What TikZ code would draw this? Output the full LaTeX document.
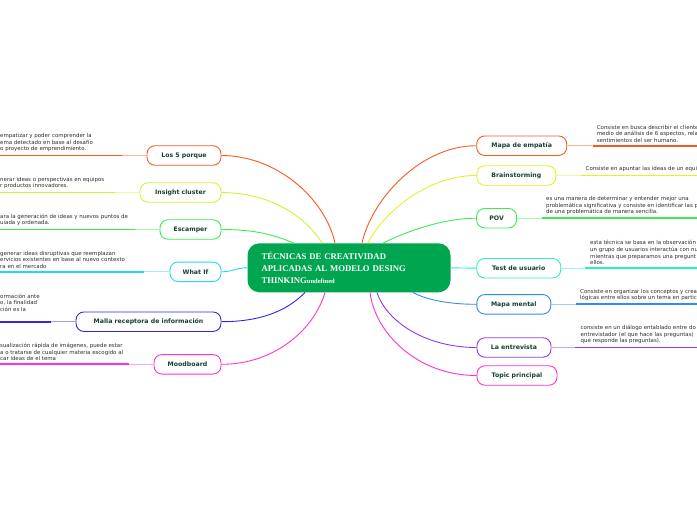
\documentclass[tikz,border=0pt]{standalone}
\usepackage{fontspec}
\setmainfont{DejaVu Sans}
\newfontfamily\titlefont{Liberation Serif}
\definecolor{cOr}{RGB}{250,90,30}
\definecolor{cYl}{RGB}{205,245,45}
\definecolor{cYlb}{RGB}{228,242,40}
\definecolor{cGr}{RGB}{60,235,80}
\definecolor{cCy}{RGB}{40,215,245}
\definecolor{cAq}{RGB}{40,240,200}
\definecolor{cBl}{RGB}{50,40,225}
\definecolor{cBlb}{RGB}{50,140,240}
\definecolor{cMg}{RGB}{255,50,220}
\definecolor{cPu}{RGB}{140,60,240}
\definecolor{cPk}{RGB}{255,50,200}
\definecolor{cCenter}{RGB}{0,165,80}
\definecolor{cText}{RGB}{20,65,50}
\definecolor{cDesc}{RGB}{45,45,45}
\tikzset{
  branch/.style={draw, line width=0.9pt, fill=white, rounded corners=8pt,
    minimum height=19.5pt, inner sep=0pt,
    font=\fontsize{6.2}{7}\selectfont\bfseries, text=cText},
  desc/.style={font=\fontsize{5.45}{6.6}\selectfont, text=cDesc, align=left, inner sep=0pt},
  ul/.style={line width=1.9pt},
  stub/.style={line width=0.9pt},
  conn/.style={line width=0.9pt},
  hub/.style={fill=cCenter, rounded corners=12pt, minimum height=49pt,
    text width=175pt, inner xsep=14pt, align=left, text=white,
    font=\titlefont\bfseries\fontsize{8.7}{12.3}\selectfont}
}
\begin{document}
\begin{tikzpicture}[x=1pt,y=-1pt]
\useasboundingbox (0,0) rectangle (697,520);
\clip (0,0) rectangle (697,520);
\fill[white] (0,0) rectangle (697,520);

% central node
\node[hub] (c) at (349,267.8) {TÉCNICAS DE CREATIVIDAD\\APLICADAS AL MODELO DESING\\THINKING{\fontsize{6.5}{12.3}\selectfont undefined}};

% left branches
\node[branch, draw=cOr, minimum width=74pt] (l1) at (184,155.5) {Los 5 porque};
\node[branch, draw=cYl, minimum width=81pt] (l2) at (180.5,192.5) {Insight cluster};
\node[branch, draw=cGr, minimum width=61pt] (l3) at (190.5,229.5) {Escamper};
\node[branch, draw=cCy, minimum width=51pt] (l4) at (195.5,271.8) {What If};
\node[branch, draw=cBl, minimum width=145pt] (l5) at (148.5,321.7) {Malla receptora de información};
\node[branch, draw=cMg, minimum width=67pt] (l6) at (187.5,364.3) {Moodboard};

% right branches
\node[branch, draw=cOr, minimum width=90pt] (r1) at (521.7,145.7) {Mapa de empatía};
\node[branch, draw=cYlb, minimum width=79pt] (r2) at (516.3,175.5) {Brainstorming};
\node[branch, draw=cGr, minimum width=40pt] (r3) at (496.6,218.2) {POV};
\node[branch, draw=cAq, minimum width=84pt] (r4) at (518.7,268.2) {Test de usuario};
\node[branch, draw=cBlb, minimum width=74pt] (r5) at (513.8,304.3) {Mapa mental};
\node[branch, draw=cPu, minimum width=74pt] (r6) at (514,347.5) {La entrevista};
\node[branch, draw=cPk, minimum width=80pt] (r7) at (517,375.5) {Topic principal};

% connectors to the centre
\draw[conn, cOr] (l1.east) .. controls +(55,0) and +(-10,-45) .. ([xshift=-14pt]c.north);
\draw[conn, cYl] (l2.east) .. controls +(50,0) and +(-15,-25) .. ([xshift=-27pt]c.north);
\draw[conn, cGr] (l3.east) .. controls +(35,0) and +(-20,-8) .. ([xshift=-55pt]c.north);
\draw[conn, cCy] (l4.east) .. controls +(12,0) and +(-12,0) .. (c.west);
\draw[conn, cBl] (l5.east) .. controls +(45,0) and +(-15,15) .. ([xshift=-44pt]c.south);
\draw[conn, cMg] (l6.east) .. controls +(55,0) and +(-10,35) .. ([xshift=-24pt]c.south);
\draw[conn, cOr] (r1.west) .. controls +(-55,0) and +(10,-45) .. ([xshift=13pt]c.north);
\draw[conn, cYlb] (r2.west) .. controls +(-50,0) and +(15,-30) .. ([xshift=19pt]c.north);
\draw[conn, cGr] (r3.west) .. controls +(-35,0) and +(20,-10) .. ([xshift=34pt]c.north);
\draw[conn, cAq] (r4.west) .. controls +(-12,0) and +(12,0) .. (c.east);
\draw[conn, cBlb] (r5.west) .. controls +(-25,0) and +(15,8) .. ([xshift=64pt]c.south);
\draw[conn, cPu] (r6.west) .. controls +(-50,0) and +(10,30) .. ([xshift=28pt]c.south);
\draw[conn, cPk] (r7.west) .. controls +(-60,0) and +(5,40) .. ([xshift=21pt]c.south);

% left underlines
\coordinate (a1) at (122,155.5); \coordinate (b1) at (-5,155.5);
\coordinate (a2) at (115,192.5); \coordinate (b2) at (-5,192.5);
\coordinate (a3) at (135,229.5); \coordinate (b3) at (-5,229.5);
\coordinate (a4) at (144,271.8); \coordinate (b4) at (-5,271.8);
\coordinate (a5) at (51,321.7);  \coordinate (b5) at (-5,321.7);
\coordinate (a6) at (129,364.3); \coordinate (b6) at (-5,364.3);
\draw[stub, cOr!45] (l1.west) -- (a1); \draw[ul, cOr] (a1) -- (b1);
\draw[stub, cYl!45] (l2.west) -- (a2); \draw[ul, cYl] (a2) -- (b2);
\draw[stub, cGr!45] (l3.west) -- (a3); \draw[ul, cGr] (a3) -- (b3);
\draw[stub, cCy!45] (l4.west) -- (a4); \draw[ul, cCy] (a4) -- (b4);
\draw[stub, cBl!45] (l5.west) -- (a5); \draw[ul, cBl] (a5) -- (b5);
\draw[stub, cMg!45] (l6.west) -- (a6); \draw[ul, cMg] (a6) -- (b6);

% right underlines
\coordinate (p1) at (592.7,145.7); \coordinate (q1) at (702,145.7);
\coordinate (p2) at (581,175.5);   \coordinate (q2) at (702,175.5);
\coordinate (p3) at (541.7,218.2); \coordinate (q3) at (702,218.2);
\coordinate (p4) at (585,268.2);   \coordinate (q4) at (702,268.2);
\coordinate (p5) at (576,304.3);   \coordinate (q5) at (702,304.3);
\coordinate (p6) at (575,347.5);   \coordinate (q6) at (702,347.5);
\draw[stub, cOr!45] (r1.east) -- (p1); \draw[ul, cOr] (p1) -- (q1);
\draw[stub, cYlb!45] (r2.east) -- (p2); \draw[ul, cYlb] (p2) -- (q2);
\draw[stub, cGr!45] (r3.east) -- (p3); \draw[ul, cGr] (p3) -- (q3);
\draw[stub, cAq!45] (r4.east) -- (p4); \draw[ul, cAq] (p4) -- (q4);
\draw[stub, cBlb!45] (r5.east) -- (p5); \draw[ul, cBlb] (p5) -- (q5);
\draw[stub, cPu!45] (r6.east) -- (p6); \draw[ul, cPu] (p6) -- (q6);

% left descriptions
\node[desc, anchor=south west] (t1) at (0,152.3) {empatizar y poder comprender la\\ema detectado en base al desafío\\o proyecto de emprendimiento.};
\node[desc, anchor=south west] (t2) at (0,189.3) {nerar ideas o perspectivas en equipos\\r productos innovadores.};
\node[desc, anchor=south west] (t3) at (0,226.3) {ara la generación de ideas y nuevos puntos de\\uiada y ordenada.};
\node[desc, anchor=south west] (t4) at (0,268.6) {generar ideas disruptivas que reemplazan\\ervicios existentes en base al nuevo contexto\\ra en el mercado};
\node[desc, anchor=south west] (t5) at (0,311.5) {ormación ante\\o, la finalidad\\ción es la};
\node[desc, anchor=south west] (t6) at (0,361.1) {sualización rápida de imágenes, puede estar\\a o tratarse de cualquier materia escogido al\\car ideas de el tema};

% right descriptions
\node[desc, anchor=south west] (s1) at (596.7,142.5) {Consiste en busca describir el cliente\\medio de análisis de 6 aspectos, rela\\sentimientos del ser humano.};
\node[desc, anchor=south west] (s2) at (585.5,172.3) {Consiste en apuntar las ideas de un equipo};
\node[desc, anchor=south west] (s3) at (546,215) {es una manera de determinar y entender mejor una\\problemática significativa y consiste en identificar las p\\de una problemática de manera sencilla.};
\node[desc, anchor=south west] (s4) at (590,265) {esta técnica se basa en la observación\\un grupo de usuarios interactúa con nu\\mientras que preparamos una pregunt\\ellos.};
\node[desc, anchor=south west] (s5) at (580,301.1) {Consiste en organizar los conceptos y crea\\lógicas entre ellos sobre un tema en partic};
\node[desc, anchor=south west] (s6) at (580.5,344.3) {consiste en un diálogo entablado entre do\\entrevistador (el que hace las preguntas)\\que responde las preguntas).};
\end{tikzpicture}
\end{document}
